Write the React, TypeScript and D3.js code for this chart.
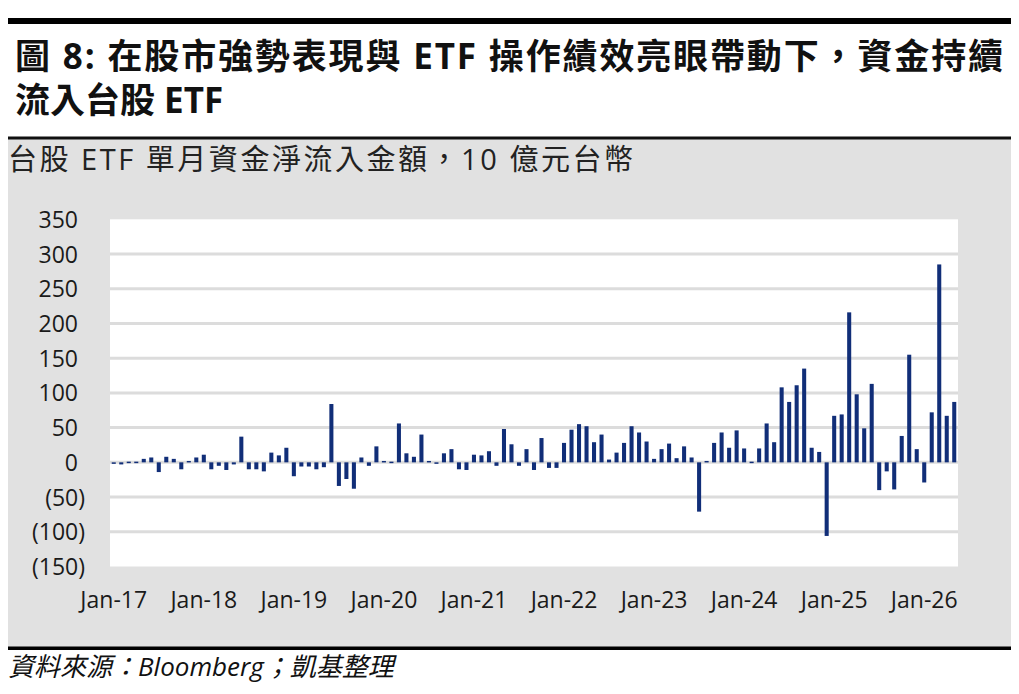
import React from 'react';
import * as d3 from 'd3';

// Monthly net inflow into Taiwan equity ETFs, NT$ bn (Jan-17 .. May-26)
const flows2017 = [-1, -3, 1, 1, 5, 7, -14, 8, 5, -10, 2, 7];
const flows2018 = [11, -10, -5, -11, -3, 37, -10, -10, -13, 14, 10, 21];
const flows2019 = [-20, -6, -6, -10, -7, 84, -34, -24, -38, 7, -5, 23];
const flows2020 = [2, 1, 56, 13, 8, 40, 2, -2, 13, 19, -10, -11];
const flows2021 = [11, 10, 16, -5, 48, 26, -5, 19, -11, 35, -8, -8];
const flows2022 = [28, 47, 55, 52, 29, 40, 4, 14, 28, 52, 43, 30];
const flows2023 = [5, 19, 27, 6, 23, 7, -71, 2, 28, 43, 21, 46];
const flows2024 = [20, 1, 20, 56, 29, 108, 87, 111, 135, 21, 15, -106];
const flows2025 = [67, 69, 216, 98, 49, 113, -40, -13, -39, 38, 155, 19];
const flows2026 = [-29, 72, 285, 67, 87];

const yearLabels = ['Jan-17', 'Jan-18', 'Jan-19', 'Jan-20', 'Jan-21', 'Jan-22', 'Jan-23', 'Jan-24', 'Jan-25', 'Jan-26'];
const yTicks = [350, 300, 250, 200, 150, 100, 50, 0, -50, -100, -150];

const values = [
  ...flows2017, ...flows2018, ...flows2019, ...flows2020, ...flows2021,
  ...flows2022, ...flows2023, ...flows2024, ...flows2025, ...flows2026,
];

const W = 1019;
const H = 694;
const plot = { left: 110, right: 958 };
const FONT = '"Open Sans", "Noto Sans CJK TC", sans-serif';

const App: React.FC = () => {
  const x = d3.scaleBand<number>()
    .domain(d3.range(values.length))
    .range([plot.left, plot.right])
    .paddingInner(0.46)
    .paddingOuter(0.23);

  const y = d3.scaleLinear().domain([-150, 350]).range([566.5, 219.3]);

  const fmt = (v: number) => (v < 0 ? `(${Math.abs(v)})` : `${v}`);

  return (
    <div style={{ position: 'absolute', left: 0, top: 0 }}>
      <svg width={W} height={H} style={{ display: 'block', background: '#fff' }}>
        {/* header */}
        <rect x={8} y={18} width={1003} height={6} fill="#000" />
        <text x={15} y={69} fontFamily={FONT} fontWeight={700} fontSize={35} fill="#111"
          textLength={988} lengthAdjust="spacing">
          圖 8: 在股市強勢表現與 ETF 操作績效亮眼帶動下，資金持續
        </text>
        <text x={15} y={113} fontFamily={FONT} fontWeight={700} fontSize={35} fill="#111">
          流入台股 ETF
        </text>

        {/* grey panel */}
        <rect x={8} y={138} width={1003} height={509} fill="#e1e1e1" />
        <rect x={8} y={136.5} width={1003} height={3} fill="#111" />
        <rect x={8} y={646.5} width={1003} height={3.5} fill="#000" />
        <text x={8} y={170} fontFamily={FONT} fontSize={29} fill="#222"
          textLength={625} lengthAdjust="spacing">
          台股 ETF 單月資金淨流入金額，10 億元台幣
        </text>

        {/* plot area */}
        <rect x={plot.left} y={y(350)} width={plot.right - plot.left} height={y(-150) - y(350)} fill="#fff" />
        {yTicks.filter(t => t !== 350 && t !== -150).map(t => (
          <line key={t} x1={plot.left} x2={plot.right} y1={y(t)} y2={y(t)} stroke="#dcdcdc" strokeWidth={3} />
        ))}

        {values.map((v, i) => (
          <rect key={i} x={x(i)!} width={x.bandwidth()}
            y={y(Math.max(0, v))} height={Math.max(1.5, Math.abs(y(v) - y(0)))}
            fill="#112e78" />
        ))}

        {yTicks.map(t => (
          <text key={t} x={t < 0 ? 85 : 78} y={y(t) + 8.5} textAnchor="end"
            fontFamily={FONT} fontSize={23} fill="#1a1a1a">
            {fmt(t)}
          </text>
        ))}

        {yearLabels.map((lab, k) => (
          <text key={lab} x={x(k * 12)! + x.bandwidth() / 2} y={608} textAnchor="middle"
            fontFamily={FONT} fontSize={23} fill="#1a1a1a">
            {lab}
          </text>
        ))}

        {/* source */}
        <text x={8} y={676} fontFamily={FONT} fontStyle="italic" fontSize={26} fill="#111">
          資料來源：Bloomberg；凱基整理
        </text>
      </svg>
    </div>
  );
};

export default App;
